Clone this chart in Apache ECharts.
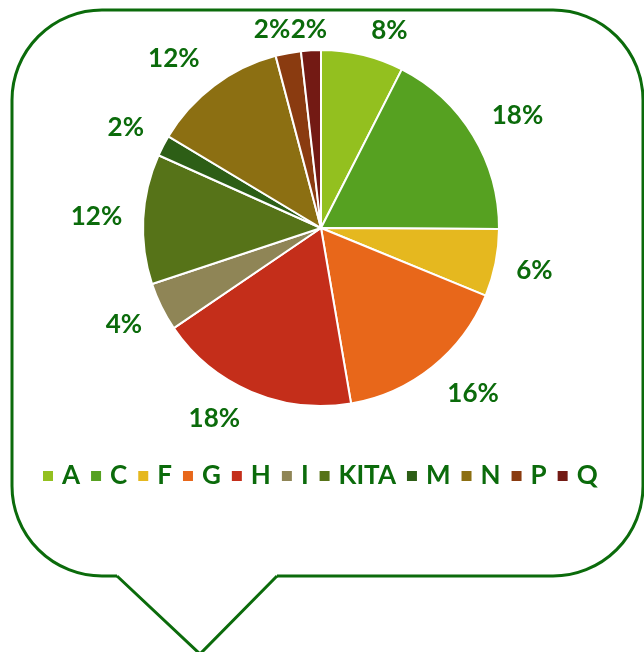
<!DOCTYPE html>
<html>
<head>
<meta charset="utf-8">
<script src="https://cdn.jsdelivr.net/npm/echarts@6/dist/echarts.min.js"></script>
<style>
  html, body { margin: 0; padding: 0; background: #fff; }
</style>
</head>
<body>
<div id="main" style="width:644px;height:652px"></div>
<script>
// categories and shares (percent), clockwise from 12 o'clock
var categories = ['A', 'C', 'F', 'G', 'H', 'I', 'KITA', 'M', 'N', 'P', 'Q']
var shares = [7.5, 17.6, 6.1, 16.1, 18.2, 4.4, 11.8, 1.9, 12.3, 2.3, 1.8]
var colors = ['#93C01F', '#56A121', '#E5B81F', '#E8671A', '#C42E1A', '#8F8556',
  '#567318', '#2D5E16', '#8C6F12', '#8A3B10', '#731A14']

var green = '#0b6b0b'
var pieCenter = [321, 228]

var myChart = echarts.init(document.getElementById('main'))

var data = categories.map(function (name, i) {
  return { name: name, value: shares[i] }
})

// small sideways shifts so the two tiny top labels sit next to each other
var labelShift = { P: 10, Q: 22 }

var option = {
  backgroundColor: '#fff',
  animation: false,
  color: colors,
  // speech bubble outline: rounded box + tail
  graphic: [
    {
      type: 'rect',
      shape: { x: 12, y: 10, width: 631, height: 566, r: 90 },
      style: { fill: 'none', stroke: green, lineWidth: 3 },
      z: -2
    },
    {
      type: 'line',
      shape: { x1: 117, y1: 576, x2: 277, y2: 576 },
      style: { stroke: '#fff', lineWidth: 6 },
      z: -1
    },
    {
      type: 'polyline',
      shape: { points: [[117, 576], [200, 654], [277, 576]] },
      style: { fill: 'none', stroke: green, lineWidth: 3 },
      z: -1
    }
  ],
  legend: {
    data: categories,
    left: 36,
    top: 458,
    icon: 'rect',
    itemWidth: 12,
    itemHeight: 12,
    itemGap: 9,
    textStyle: {
      color: green,
      fontFamily: 'Lato',
      fontWeight: 'bold',
      fontSize: 26,
      padding: [0, 0, 0, 3]
    }
  },
  series: [
    {
      type: 'pie',
      center: pieCenter,
      radius: 178,
      startAngle: 90,
      clockwise: true,
      percentPrecision: 0,
      avoidLabelOverlap: false,
      data: data,
      itemStyle: {
        borderColor: '#fff',
        borderWidth: 2
      },
      label: {
        show: true,
        position: 'outside',
        formatter: '{d}%',
        color: green,
        fontFamily: 'Lato',
        fontWeight: 'bold',
        fontSize: 26
      },
      labelLine: {
        show: false,
        length: 16,
        length2: 0
      },
      // push diagonal labels a bit further out vertically, like the original
      labelLayout: function (params) {
        var r = params.labelRect
        var cx = r.x + r.width / 2 - pieCenter[0]
        var cy = r.y + r.height / 2 - pieCenter[1]
        var a = Math.atan2(cx, -cy)
        var dy = 14 * Math.abs(Math.sin(2 * a)) * (cy < 0 ? -1 : 1)
        return {
          dx: labelShift[categories[params.dataIndex]] || 0,
          dy: dy,
          hideOverlap: false
        }
      },
      emphasis: { disabled: true }
    }
  ]
}
myChart.setOption(option)
</script>
</body>
</html>
